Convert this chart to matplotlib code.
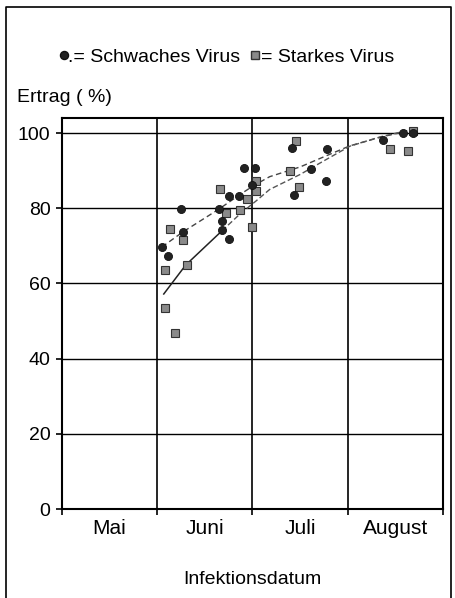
import numpy as np
import matplotlib
matplotlib.use("Agg")
import matplotlib.pyplot as plt

plt.rcParams['font.family'] = ['Liberation Sans', 'DejaVu Sans']

### Data (x in months from start of May, y = Ertrag %)
weak_x = [1.05, 1.11, 1.25, 1.27, 1.65, 1.68, 1.68, 1.75, 1.75, 1.86,
          1.91, 2.03, 2.00, 2.41, 2.44, 2.61, 2.77, 2.78, 3.37, 3.58, 3.68]
weak_y = [69.7, 67.3, 79.8, 73.7, 79.8, 76.6, 74.2, 71.8, 83.2, 83.2,
          90.7, 90.7, 86.2, 96.0, 83.5, 90.4, 87.2, 95.7, 98.1, 100.0, 100.0]

strong_x = [1.08, 1.08, 1.19, 1.14, 1.27, 1.31, 1.66, 1.72, 1.87, 1.94,
            1.99, 2.04, 2.04, 2.39, 2.46, 2.49, 3.44, 3.63, 3.68]
strong_y = [63.6, 53.5, 46.8, 74.5, 71.5, 64.9, 85.1, 78.7, 79.5, 82.4,
            75.0, 87.2, 84.6, 89.9, 97.9, 85.6, 95.7, 95.2, 100.5]

### trend curves
weak_fit_x = [1.05, 1.27, 1.65, 1.86, 2.01, 2.18, 2.50, 2.74, 3.02, 3.34, 3.58]
weak_fit_y = [69.7, 73.7, 79.8, 83.5, 86.0, 88.4, 91.0, 93.6, 96.6, 98.9, 100.3]

strong_fit_x = [1.07, 1.30, 1.68, 1.87, 2.04, 2.18, 2.50, 2.74, 3.02, 3.34, 3.68]
strong_fit_y = [57.2, 64.9, 74.0, 78.5, 82.0, 85.0, 89.0, 92.5, 96.5, 99.0, 101.0]

months = ["Mai", "Juni", "Juli", "August"]
yticks = [0, 20, 40, 60, 80, 100]

fig = plt.figure(figsize=(4.56, 5.98), dpi=100)
ax = fig.add_axes([0.1353, 0.1488, 0.8368, 0.6538])

### grid
for yv in yticks[1:]:
    ax.axhline(yv, color="black", linewidth=1.0, zorder=1)
for xv in [1, 2, 3]:
    ax.axvline(xv, color="black", linewidth=1.2, zorder=1)

### trend lines
ax.plot(weak_fit_x, weak_fit_y, color="#444444", linewidth=1.0,
        linestyle=(0, (4, 2.5)), zorder=2)
ax.plot(strong_fit_x[:3], strong_fit_y[:3], color="#222222", linewidth=1.1, zorder=2)
ax.plot(strong_fit_x[2:], strong_fit_y[2:], color="#555555", linewidth=1.0,
        linestyle=(0, (4, 2)), zorder=2)

### points
ax.plot(strong_x, strong_y, linestyle="none", marker="s", markersize=6.3,
        markerfacecolor="#8a8a8a", markeredgecolor="#333333", markeredgewidth=0.8, zorder=3)
ax.plot(weak_x, weak_y, linestyle="none", marker="o", markersize=5.8,
        markerfacecolor="#222222", markeredgecolor="#111111", markeredgewidth=0.6, zorder=4)

ax.set_xlim(0, 4)
ax.set_ylim(0, 104)
ax.set_yticks(yticks)
ax.set_yticklabels([str(v) for v in yticks], fontsize=14)
ax.set_xticks([0, 1, 2, 3, 4])
ax.set_xticklabels([])
ax.set_xticks([0.5, 1.5, 2.5, 3.5], minor=True)
ax.set_xticklabels(months, minor=True, fontsize=15)
ax.tick_params(axis="x", which="minor", length=0, pad=7)
ax.tick_params(axis="both", which="major", direction="out", length=4, width=1.2, color="black")
ax.tick_params(axis="y", pad=4)
for s in ax.spines.values():
    s.set_linewidth(1.5)

ax.set_xlabel("Infektionsdatum", fontsize=14, labelpad=24)

### y-label at top left
fig.text(17 / 456, 1 - 102 / 598, "Ertrag ( %)", fontsize=14, ha="left", va="baseline")

### legend line
fig.lines.append(plt.Line2D([64 / 456], [1 - 55 / 598], transform=fig.transFigure,
                            marker="o", markersize=5.8, markerfacecolor="#222222",
                            markeredgecolor="#111111", linestyle="none"))
fig.text(68 / 456, 1 - 62 / 598, ".= Schwaches Virus", fontsize=14, ha="left", va="baseline")
fig.lines.append(plt.Line2D([255 / 456], [1 - 55 / 598], transform=fig.transFigure,
                            marker="s", markersize=6.3, markerfacecolor="#8a8a8a",
                            markeredgecolor="#333333", linestyle="none"))
fig.text(261 / 456, 1 - 62 / 598, "= Starkes Virus", fontsize=14, ha="left", va="baseline")

### page frame (left, top, right)
fx = [6 / 456, 6 / 456, 451 / 456, 451 / 456]
fy = [0.0, 1 - 7 / 598, 1 - 7 / 598, 0.0]
fig.lines.append(plt.Line2D(fx, fy, transform=fig.transFigure, color="black", linewidth=1.2))

fig.savefig("out.png", dpi=100)
